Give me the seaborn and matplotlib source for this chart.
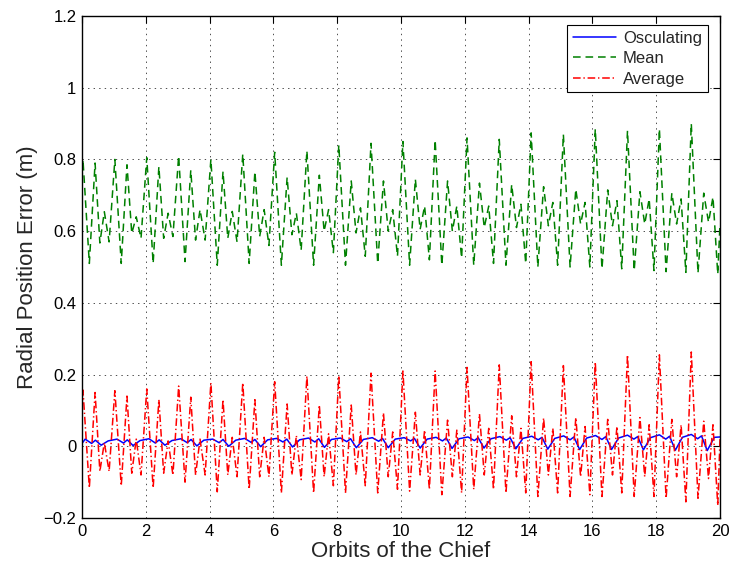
import matplotlib
matplotlib.use("Agg")
import matplotlib.pyplot as plt
from matplotlib.ticker import FixedLocator, FuncFormatter
import pandas as pd
import seaborn as sns

# Orbit times of the sampled turning points (fast components: mean / average)
t_fast = [
    0.00,
    0.03, 0.23, 0.41, 0.56, 0.70, 0.85,
    1.03, 1.23, 1.41, 1.56, 1.70, 1.85,
    2.03, 2.23, 2.41, 2.56, 2.70, 2.85,
    3.03, 3.23, 3.41, 3.56, 3.70, 3.86,
    4.04, 4.24, 4.42, 4.57, 4.71, 4.86,
    5.04, 5.24, 5.42, 5.57, 5.71, 5.86,
    6.04, 6.25, 6.43, 6.58, 6.72, 6.87,
    7.05, 7.26, 7.44, 7.59, 7.73, 7.88,
    8.05, 8.26, 8.44, 8.59, 8.73, 8.88,
    9.06, 9.27, 9.45, 9.60, 9.74, 9.89,
    10.06, 10.27, 10.45, 10.60, 10.74, 10.89,
    11.07, 11.28, 11.46, 11.61, 11.75, 11.90,
    12.07, 12.28, 12.46, 12.61, 12.75, 12.90,
    13.08, 13.29, 13.47, 13.62, 13.76, 13.91,
    14.08, 14.29, 14.47, 14.62, 14.76, 14.91,
    15.09, 15.30, 15.48, 15.63, 15.77, 15.92,
    16.09, 16.30, 16.48, 16.63, 16.77, 16.92,
    17.10, 17.31, 17.49, 17.64, 17.78, 17.93,
    18.10, 18.31, 18.49, 18.64, 18.78, 18.93,
    19.10, 19.31, 19.49, 19.64, 19.78, 19.93,
    20.00,
]

# Radial position error using mean elements (m)
mean_err = [
    0.74,
    0.800, 0.510, 0.790, 0.567, 0.654, 0.570,
    0.800, 0.510, 0.785, 0.594, 0.640, 0.580,
    0.805, 0.510, 0.780, 0.580, 0.650, 0.585,
    0.810, 0.515, 0.770, 0.575, 0.660, 0.575,
    0.800, 0.505, 0.766, 0.580, 0.655, 0.570,
    0.815, 0.510, 0.766, 0.585, 0.660, 0.560,
    0.820, 0.505, 0.750, 0.590, 0.650, 0.547,
    0.824, 0.505, 0.756, 0.600, 0.660, 0.540,
    0.840, 0.505, 0.740, 0.595, 0.665, 0.530,
    0.845, 0.510, 0.740, 0.600, 0.660, 0.530,
    0.850, 0.505, 0.745, 0.605, 0.670, 0.520,
    0.854, 0.505, 0.740, 0.600, 0.670, 0.525,
    0.860, 0.505, 0.734, 0.610, 0.670, 0.510,
    0.856, 0.505, 0.730, 0.610, 0.675, 0.510,
    0.874, 0.500, 0.724, 0.615, 0.680, 0.505,
    0.870, 0.500, 0.717, 0.620, 0.680, 0.500,
    0.885, 0.495, 0.715, 0.615, 0.685, 0.495,
    0.880, 0.490, 0.710, 0.620, 0.690, 0.490,
    0.885, 0.487, 0.706, 0.620, 0.690, 0.485,
    0.900, 0.483, 0.706, 0.625, 0.695, 0.480,
    0.62,
]

# Radial position error using averaged elements (m)
avg_err = [
    0.11,
    0.157, -0.116, 0.150, -0.070, 0.010, -0.070,
    0.155, -0.110, 0.140, -0.075, 0.020, -0.080,
    0.160, -0.116, 0.130, -0.075, 0.015, -0.080,
    0.168, -0.100, 0.137, -0.080, 0.020, -0.080,
    0.177, -0.127, 0.130, -0.080, 0.025, -0.085,
    0.177, -0.120, 0.130, -0.085, 0.025, -0.085,
    0.180, -0.130, 0.118, -0.080, 0.030, -0.093,
    0.196, -0.130, 0.115, -0.085, 0.035, -0.110,
    0.197, -0.130, 0.115, -0.080, 0.040, -0.110,
    0.204, -0.130, 0.093, -0.085, 0.040, -0.120,
    0.210, -0.125, 0.095, -0.080, 0.045, -0.120,
    0.210, -0.135, 0.073, -0.085, 0.045, -0.130,
    0.220, -0.120, 0.090, -0.080, 0.050, -0.120,
    0.227, -0.130, 0.085, -0.085, 0.050, -0.130,
    0.236, -0.140, 0.079, -0.080, 0.050, -0.130,
    0.225, -0.140, 0.080, -0.085, 0.055, -0.135,
    0.235, -0.140, 0.075, -0.080, 0.055, -0.130,
    0.255, -0.140, 0.080, -0.085, 0.060, -0.140,
    0.255, -0.145, 0.075, -0.085, 0.060, -0.155,
    0.263, -0.145, 0.070, -0.090, 0.060, -0.165,
    0.02,
]

# Orbit times of the sampled turning points (osculating elements)
t_slow = [
    0.00,
    0.10, 0.30, 0.42, 0.60, 0.82,
    1.10, 1.30, 1.42, 1.60, 1.82,
    2.10, 2.30, 2.42, 2.60, 2.82,
    3.10, 3.30, 3.42, 3.60, 3.82,
    4.10, 4.30, 4.42, 4.60, 4.82,
    5.10, 5.30, 5.42, 5.60, 5.82,
    6.10, 6.30, 6.42, 6.60, 6.82,
    7.10, 7.30, 7.42, 7.60, 7.82,
    8.10, 8.30, 8.42, 8.60, 8.82,
    9.10, 9.30, 9.42, 9.60, 9.82,
    10.10, 10.30, 10.42, 10.60, 10.82,
    11.10, 11.30, 11.42, 11.60, 11.82,
    12.10, 12.30, 12.42, 12.60, 12.82,
    13.10, 13.30, 13.42, 13.60, 13.82,
    14.10, 14.30, 14.42, 14.60, 14.82,
    15.10, 15.30, 15.42, 15.60, 15.82,
    16.10, 16.30, 16.42, 16.60, 16.82,
    17.10, 17.30, 17.42, 17.60, 17.82,
    18.10, 18.30, 18.42, 18.60, 18.82,
    19.10, 19.30, 19.42, 19.60, 19.82,
    20.00,
]

# Radial position error using osculating elements (m)
osc_err = [
    0.008,
    0.020, 0.008, 0.017, 0.003, 0.015,
    0.020, 0.009, 0.018, 0.002, 0.016,
    0.021, 0.009, 0.018, 0.003, 0.016,
    0.021, 0.010, 0.019, 0.001, 0.017,
    0.020, 0.010, 0.019, 0.000, 0.017,
    0.022, 0.011, 0.019, -0.001, 0.018,
    0.022, 0.012, 0.020, -0.002, 0.018,
    0.023, 0.012, 0.021, -0.003, 0.019,
    0.023, 0.013, 0.021, -0.004, 0.019,
    0.024, 0.014, 0.022, -0.004, 0.020,
    0.024, 0.015, 0.022, -0.005, 0.020,
    0.025, 0.015, 0.023, -0.006, 0.021,
    0.026, 0.016, 0.024, -0.005, 0.021,
    0.027, 0.017, 0.024, -0.007, 0.022,
    0.028, 0.018, 0.025, -0.008, 0.022,
    0.029, 0.018, 0.026, -0.009, 0.023,
    0.030, 0.019, 0.027, -0.009, 0.023,
    0.031, 0.020, 0.027, -0.010, 0.024,
    0.032, 0.020, 0.028, -0.011, 0.025,
    0.033, 0.021, 0.029, -0.012, 0.025,
    0.026,
]

x_ticks = [0, 2, 4, 6, 8, 10, 12, 14, 16, 18, 20]
y_ticks = [-0.2, 0.0, 0.2, 0.4, 0.6, 0.8, 1.0, 1.2]

sns.set_theme(style="white")
plt.rcParams["font.family"] = ["Liberation Sans", "DejaVu Sans"]
plt.rcParams["lines.scale_dashes"] = False
plt.rcParams["axes.unicode_minus"] = True

fig = plt.figure(figsize=(7.34, 5.72), dpi=100)
fig.patch.set_facecolor("white")
ax = fig.add_axes([82 / 734, 54 / 572, 638 / 734, 502 / 572])

df_slow = pd.DataFrame({"orbit": t_slow, "err": osc_err})
df_fast = pd.DataFrame({"orbit": t_fast, "mean": mean_err, "avg": avg_err})

sns.lineplot(data=df_slow, x="orbit", y="err", ax=ax, color=(0, 0, 1),
             linewidth=1.1, label="Osculating", estimator=None, sort=False)
sns.lineplot(data=df_fast, x="orbit", y="mean", ax=ax, color=(0, 0.5, 0),
             linewidth=1.1, linestyle=(0, (5.5, 3.5)), label="Mean",
             estimator=None, sort=False)
sns.lineplot(data=df_fast, x="orbit", y="avg", ax=ax, color=(1, 0, 0),
             linewidth=1.1, linestyle=(0, (5.5, 2.0, 1.0, 2.0)), label="Average",
             estimator=None, sort=False)

ax.set_xlim(0, 20)
ax.set_ylim(-0.2, 1.2)
ax.xaxis.set_major_locator(FixedLocator(x_ticks))
ax.yaxis.set_major_locator(FixedLocator(y_ticks))
ax.yaxis.set_major_formatter(FuncFormatter(lambda v, p: f"{round(v, 2):g}".replace("-", "\u2212")))
ax.xaxis.set_major_formatter(FuncFormatter(lambda v, p: f"{round(v, 2):g}"))

ax.grid(True, color="0.3", linestyle=(0, (1, 3)), linewidth=0.7)
ax.tick_params(direction="in", top=True, right=True, length=5, width=0.8,
               labelsize=12, colors="black", pad=4)
for s in ax.spines.values():
    s.set_color("black")
    s.set_linewidth(1.0)

ax.set_xlabel("Orbits of the Chief", fontsize=16, labelpad=2)
ax.set_ylabel("Radial Position Error (m)", fontsize=16, labelpad=4)

leg = ax.legend(loc="upper right", bbox_to_anchor=(0.981, 0.982), borderaxespad=0,
                fontsize=12, handlelength=2.6, handletextpad=0.4, labelspacing=0.32,
                borderpad=0.35, fancybox=False, framealpha=1, edgecolor="black")
leg.get_frame().set_linewidth(0.8)

fig.savefig("out.png", dpi=100, facecolor="white")
